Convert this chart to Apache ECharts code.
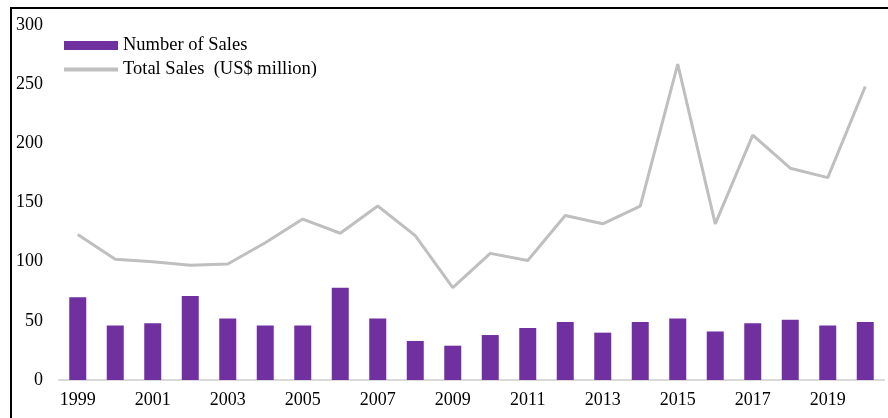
<!DOCTYPE html>
<html>
<head>
<meta charset="utf-8">
<script src="https://cdn.jsdelivr.net/npm/echarts@6/dist/echarts.min.js"></script>
<style>
  html, body { margin: 0; padding: 0; background: #fff; }
  #salesChart { width: 888px; height: 418px; }
</style>
</head>
<body>
<div id="salesChart"></div>
<script>
const years = ['1999', '2000', '2001', '2002', '2003', '2004', '2005', '2006', '2007', '2008', '2009',
  '2010', '2011', '2012', '2013', '2014', '2015', '2016', '2017', '2018', '2019', '2020']
const numberOfSales = [70, 46, 48, 71, 52, 46, 46, 78, 52, 33, 29, 38, 44, 49, 40, 49, 52, 41, 48, 51, 46, 49]
const totalSales = [123, 102, 100, 97, 98, 116, 136, 124, 147, 122, 78, 107, 101, 139, 132, 147, 267, 132, 207, 179, 171, 248]

const font = '"Liberation Serif", "Times New Roman", serif'
const chart = echarts.init(document.getElementById('salesChart'))
const option = {
  backgroundColor: '#fff',
  animation: false,
  textStyle: { fontFamily: font },
  grid: { left: 59, right: 4, top: 25, bottom: 38 },
  legend: {
    orient: 'vertical',
    left: 62,
    top: 36,
    padding: 0,
    itemGap: 5,
    itemWidth: 54,
    itemHeight: 9,
    textStyle: { fontFamily: font, fontSize: 18.5, color: '#000' },
    data: [
      { name: 'Number of Sales', icon: 'rect' },
      { name: 'Total Sales  (US$ million)', itemStyle: { opacity: 0 }, lineStyle: { width: 4, color: '#BFBFBF' } }
    ]
  },
  xAxis: {
    type: 'category',
    data: years,
    axisLine: { lineStyle: { color: '#d9d9d9', width: 2 } },
    axisTick: { show: false },
    axisLabel: { interval: 1, margin: 11, fontFamily: font, fontSize: 18, color: '#000' }
  },
  yAxis: {
    type: 'value',
    min: 0,
    max: 300,
    interval: 50,
    splitLine: { show: false },
    axisLine: { show: false },
    axisTick: { show: false },
    axisLabel: { margin: 16, fontFamily: font, fontSize: 18, color: '#000' }
  },
  series: [
    {
      name: 'Number of Sales',
      type: 'bar',
      barWidth: 17,
      itemStyle: { color: '#7030A0' },
      data: numberOfSales
    },
    {
      name: 'Total Sales  (US$ million)',
      type: 'line',
      symbol: 'none',
      lineStyle: { color: '#BFBFBF', width: 3 },
      itemStyle: { color: '#BFBFBF' },
      data: totalSales
    }
  ],
  graphic: [
    { type: 'line', shape: { x1: 10, y1: 8, x2: 888, y2: 8 }, style: { stroke: '#000', lineWidth: 2 } },
    { type: 'line', shape: { x1: 11, y1: 8, x2: 11, y2: 418 }, style: { stroke: '#000', lineWidth: 2 } }
  ]
}
chart.setOption(option)
</script>
</body>
</html>
